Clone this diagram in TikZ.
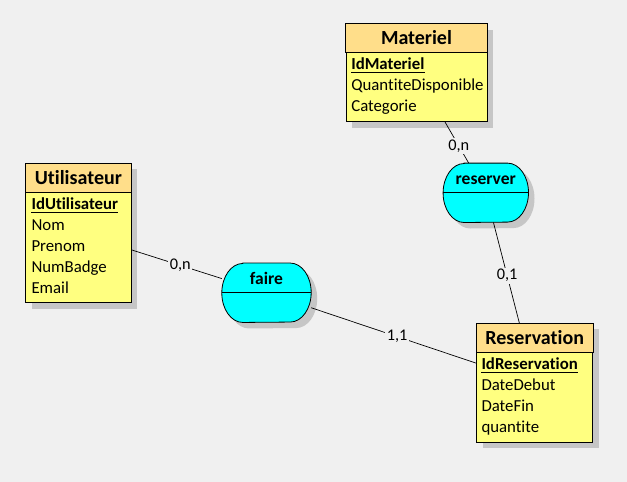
\documentclass[tikz,border=0pt]{standalone}
\usepackage{fontspec}
\setmainfont[Ligatures={NoCommon,NoContextual}]{Carlito}
\usetikzlibrary{shadows}
\definecolor{bg}{HTML}{F0F0F0}
\definecolor{hdr}{HTML}{FFDE8A}
\definecolor{bodyc}{HTML}{FFFF80}
\definecolor{relc}{HTML}{00FFFF}
\definecolor{shd}{HTML}{C6C6C6}
\newcommand{\RelShape}[2]{%
  \fill[shd] ([shift={(27pt,-6pt)}]#1.north west) -- ([shift={(-15pt,-6pt)}]#1.north east)
    arc[start angle=90,end angle=-90,x radius=21pt,y radius=29.5pt]
    -- ([shift={(27pt,-6pt)}]#1.south west)
    arc[start angle=270,end angle=90,x radius=21pt,y radius=29.5pt] -- cycle;
  \filldraw[fill=relc, line width=0.8pt] ([xshift=21pt]#1.north west) -- ([xshift=-21pt]#1.north east)
    arc[start angle=90,end angle=-90,x radius=21pt,y radius=29.5pt]
    -- ([xshift=21pt]#1.south west)
    arc[start angle=270,end angle=90,x radius=21pt,y radius=29.5pt] -- cycle;
  \draw[line width=0.8pt] (#1.west) -- (#1.east);
  \node[rttl, anchor=base] (#1T) at ([yshift=-21pt]#1.north) {#2};
}
\begin{document}
\begin{tikzpicture}[x=1pt,y=1pt,
  ent/.style={draw=black, fill=bodyc, line width=0.8pt, inner sep=0pt,
    drop shadow={shadow xshift=6pt, shadow yshift=-6pt, fill=shd, opacity=1}},
  hdrbox/.style={fill=hdr, draw=black, line width=0.8pt},
  ttl/.style={inner sep=0pt, font=\fontsize{20pt}{23pt}\selectfont\bfseries},
  att/.style={inner sep=0pt, font=\fontsize{16.8pt}{20pt}\selectfont},
  key/.style={att, font=\fontsize{16.8pt}{20pt}\selectfont\bfseries},
  relnode/.style={rectangle, inner sep=0pt, minimum width=#1, minimum height=59pt},
  rttl/.style={inner sep=0pt, font=\fontsize{17.5pt}{20pt}\selectfont\bfseries},
  conn/.style={draw=black, line width=0.7pt},
  card/.style={fill=bg, inner sep=1.5pt, font=\fontsize{16.3pt}{19pt}\selectfont}
]
\fill[bg] (0,0) rectangle (627,-482);
\useasboundingbox (0,0) rectangle (627,-482);

% Materiel
\node[ent, minimum width=141pt, minimum height=98pt] (mat) at (416.5,-72.5) {};
\draw[hdrbox] (mat.north west) rectangle ([yshift=-29.5pt]mat.north east);
\node[ttl, anchor=base] (matT) at ([yshift=-21.7pt]mat.north) {Materiel};
\node[key, anchor=base west] (matK) at ([xshift=5.5pt,yshift=-46.7pt]mat.north west) {IdMateriel};
\draw[line width=0.8pt] ([yshift=-3pt]matK.base west) -- ([yshift=-3pt]matK.base east);
\node[att, anchor=base west] (matA1) at ([yshift=-20.7pt]matK.base west) {QuantiteDisponible};
\node[att, anchor=base west] (matA2) at ([yshift=-20.7pt]matA1.base west) {Categorie};

% Utilisateur
\node[ent, minimum width=105.3pt, minimum height=139.4pt] (uti) at (78.4,-233) {};
\draw[hdrbox] (uti.north west) rectangle ([yshift=-29.5pt]uti.north east);
\node[ttl, anchor=base] (utiT) at ([yshift=-21.7pt]uti.north) {Utilisateur};
\node[key, anchor=base west] (utiK) at ([xshift=6pt,yshift=-46.7pt]uti.north west) {IdUtilisateur};
\draw[line width=0.8pt] ([yshift=-3pt]utiK.base west) -- ([yshift=-3pt]utiK.base east);
\node[att, anchor=base west] (utiA1) at ([yshift=-20.9pt]utiK.base west) {Nom};
\node[att, anchor=base west] (utiA2) at ([yshift=-20.9pt]utiA1.base west) {Prenom};
\node[att, anchor=base west] (utiA3) at ([yshift=-20.9pt]utiA2.base west) {NumBadge};
\node[att, anchor=base west] (utiA4) at ([yshift=-20.9pt]utiA3.base west) {Email};

% Reservation
\node[ent, minimum width=116pt, minimum height=119pt] (res) at (534.7,-382.8) {};
\draw[hdrbox] (res.north west) rectangle ([yshift=-29.5pt]res.north east);
\node[ttl, anchor=base] (resT) at ([yshift=-21.7pt]res.north) {Reservation};
\node[key, anchor=base west] (resK) at ([xshift=5pt,yshift=-46.7pt]res.north west) {IdReservation};
\draw[line width=0.8pt] ([yshift=-3pt]resK.base west) -- ([yshift=-3pt]resK.base east);
\node[att, anchor=base west] (resA1) at ([yshift=-20.8pt]resK.base west) {DateDebut};
\node[att, anchor=base west] (resA2) at ([yshift=-20.8pt]resA1.base west) {DateFin};
\node[att, anchor=base west] (resA3) at ([yshift=-20.8pt]resA2.base west) {quantite};

% Relations
\node[relnode=89pt] (faire) at (266.5,-292.75) {};
\RelShape{faire}{faire}
\node[relnode=85pt] (reserver) at (485.8,-192.8) {};
\RelShape{reserver}{reserver}

% Connectors
\draw[conn] (uti) -- node[card, pos=0.54] {0,n} (faire);
\draw[conn] (faire) -- node[card, pos=0.52] {1,1} (res);
\draw[conn] (mat) -- node[card, pos=0.58] {0,n} (reserver);
\draw[conn] (reserver) -- node[card, pos=0.53] {0,1} (res);
\end{tikzpicture}
\end{document}
